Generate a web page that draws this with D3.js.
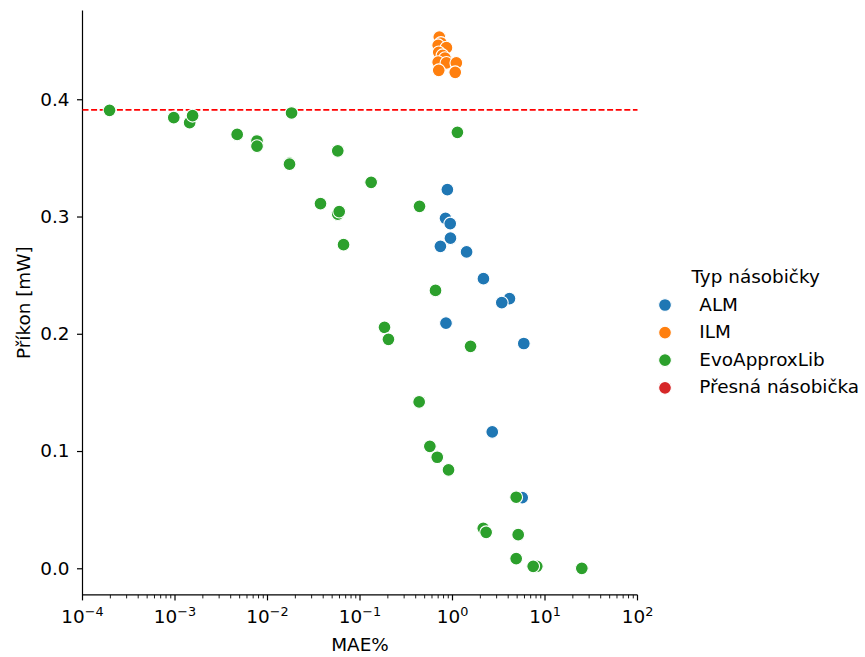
<!DOCTYPE html>
<html>
<head>
<meta charset="utf-8">
<script src="https://cdn.jsdelivr.net/npm/d3@7"></script>
<style>
  body { margin: 0; background: #fff; }
  text { font-family: "DejaVu Sans", sans-serif; fill: #000; }
</style>
</head>
<body>
<svg id="chart" width="865" height="657"></svg>
<script>
// MAE% / power [mW]
const almMae = [0.88, 0.84, 0.945, 0.95, 0.74, 1.42, 2.16, 4.13, 3.41, 0.85, 5.9, 2.69, 5.67]
const almPower = [0.323, 0.2985, 0.294, 0.2815, 0.2746, 0.2698, 0.247, 0.230, 0.2266, 0.209, 0.1917, 0.1163, 0.0603]

const ilmMae = [0.72, 0.75, 0.70, 0.86, 0.71, 0.78, 0.83, 0.70, 0.86, 1.10, 0.71, 1.07]
const ilmPower = [0.453, 0.448, 0.446, 0.444, 0.440, 0.4375, 0.435, 0.4316, 0.431, 0.431, 0.4247, 0.423]

const evoMae = [1.96e-4, 9.7e-4, 1.44e-3, 1.55e-3, 4.7e-3, 7.7e-3, 7.7e-3, 0.0182, 0.0173, 0.0173,
  0.0575, 0.132, 0.0374, 0.0575, 0.0596, 0.0664, 1.13, 0.44, 0.655, 0.184, 0.203, 1.567,
  0.436, 0.569, 0.684, 0.906, 4.88, 2.15, 2.31, 5.13, 4.88, 8.15, 7.45, 25.0]
const evoPower = [0.3906, 0.3844, 0.380, 0.386, 0.370, 0.3644, 0.360, 0.3883, 0.3455, 0.3446,
  0.356, 0.3292, 0.311, 0.302, 0.3042, 0.276, 0.3718, 0.3087, 0.237, 0.2055, 0.1953, 0.1893,
  0.1419, 0.104, 0.0947, 0.0839, 0.0606, 0.0341, 0.0307, 0.0287, 0.0083, 0.0017, 0.0017, 0.0]

// exact multiplier: MAE 0, so it only shows as the dashed line
const exactMae = [0]
const exactPower = [0.391]

const groups = ['ALM', 'ILM', 'EvoApproxLib', 'Přesná násobička']
const groupColors = ['#1f77b4', '#ff7f0e', '#2ca02c', '#d62728']

const xTicks = [1e-4, 1e-3, 1e-2, 1e-1, 1e0, 1e1, 1e2]
const yTicks = [0.0, 0.1, 0.2, 0.3, 0.4]

let svg = d3.select('#chart')
let plotLeft = 82.5, plotRight = 637.5, plotTop = 10.5, plotBottom = 594.9
let fontSize = 18.4

let x = d3.scaleLog().domain([1e-4, 1e2]).range([plotLeft, plotRight])
let y = d3.scaleLinear().domain([-0.0227, 0.4757]).range([plotBottom, plotTop])
let color = d3.scaleOrdinal().domain(groups).range(groupColors)

let points = []
const addGroup = (name, xs, ys) => xs.forEach((v, i) => points.push({ group: name, mae: v, power: ys[i] }))
addGroup('ALM', almMae, almPower)
addGroup('ILM', ilmMae, ilmPower)
addGroup('EvoApproxLib', evoMae, evoPower)
addGroup('Přesná násobička', exactMae, exactPower)

// y axis
let yAxis = svg.append('g')
  .attr('transform', `translate(${plotLeft},0)`)
  .call(d3.axisLeft(y).tickValues(yTicks).tickFormat(d3.format('.1f')).tickSize(5.5).tickPadding(7.5))
yAxis.select('.domain').attr('d', `M0,${plotTop}V${plotBottom}`).attr('stroke-width', 1.2)
yAxis.selectAll('.tick line').attr('stroke-width', 1.2)
yAxis.selectAll('.tick text').attr('font-size', fontSize).attr('font-family', 'DejaVu Sans')

// x axis, log with minor ticks
let minor = []
for (let e = -4; e < 2; e++) for (let m = 2; m <= 9; m++) minor.push(m * Math.pow(10, e))

let xAxis = svg.append('g').attr('transform', `translate(0,${plotBottom})`)
xAxis.append('path').attr('d', `M${plotLeft},0H${plotRight}`).attr('stroke', '#000').attr('stroke-width', 1.2)
xAxis.selectAll('.minor').data(minor).enter().append('line')
  .attr('x1', d => x(d)).attr('x2', d => x(d)).attr('y1', 0).attr('y2', 3.5)
  .attr('stroke', '#000').attr('stroke-width', 0.9)
xAxis.selectAll('.major').data(xTicks).enter().append('line')
  .attr('x1', d => x(d)).attr('x2', d => x(d)).attr('y1', 0).attr('y2', 5.5)
  .attr('stroke', '#000').attr('stroke-width', 1.2)
let xl = xAxis.selectAll('.lbl').data(xTicks).enter().append('text')
  .attr('x', d => x(d)).attr('y', 28).attr('text-anchor', 'middle').attr('font-size', fontSize)
xl.append('tspan').text('10')
xl.append('tspan').attr('dy', -7).attr('font-size', 12.8).text(d => String(Math.round(Math.log10(d))).replace('-', '\u2212'))

// axis labels
svg.append('text').attr('x', (plotLeft + plotRight) / 2).attr('y', 651).attr('text-anchor', 'middle')
  .attr('font-size', fontSize).text('MAE%')
svg.append('text').attr('transform', `translate(30,${(plotTop + plotBottom) / 2}) rotate(-90)`)
  .attr('text-anchor', 'middle').attr('font-size', fontSize).text('Příkon [mW]')

// reference line for the exact multiplier
svg.append('line')
  .attr('x1', plotLeft).attr('x2', plotRight)
  .attr('y1', y(exactPower[0])).attr('y2', y(exactPower[0]))
  .attr('stroke', '#ff0000').attr('stroke-width', 1.8).attr('stroke-dasharray', '6,2.6')

// points
svg.append('g').selectAll('circle')
  .data(points.filter(p => p.mae > 0))
  .enter().append('circle')
  .attr('cx', p => x(p.mae))
  .attr('cy', p => y(p.power))
  .attr('r', 6.4)
  .attr('fill', p => color(p.group))
  .attr('stroke', '#fff')
  .attr('stroke-width', 1.1)

// legend
let legend = svg.append('g')
legend.append('text').attr('x', 691.5).attr('y', 283).attr('font-size', fontSize).text('Typ násobičky')
let items = legend.selectAll('.item').data(groups).enter().append('g')
  .attr('transform', (d, i) => `translate(0,${305 + i * 27.6})`)
items.append('circle').attr('cx', 665).attr('cy', 0).attr('r', 6.4)
  .attr('fill', d => color(d)).attr('stroke', '#fff').attr('stroke-width', 1.1)
items.append('text').attr('x', 699.3).attr('y', 5.5).attr('font-size', fontSize).text(d => d)
</script>
</body>
</html>
